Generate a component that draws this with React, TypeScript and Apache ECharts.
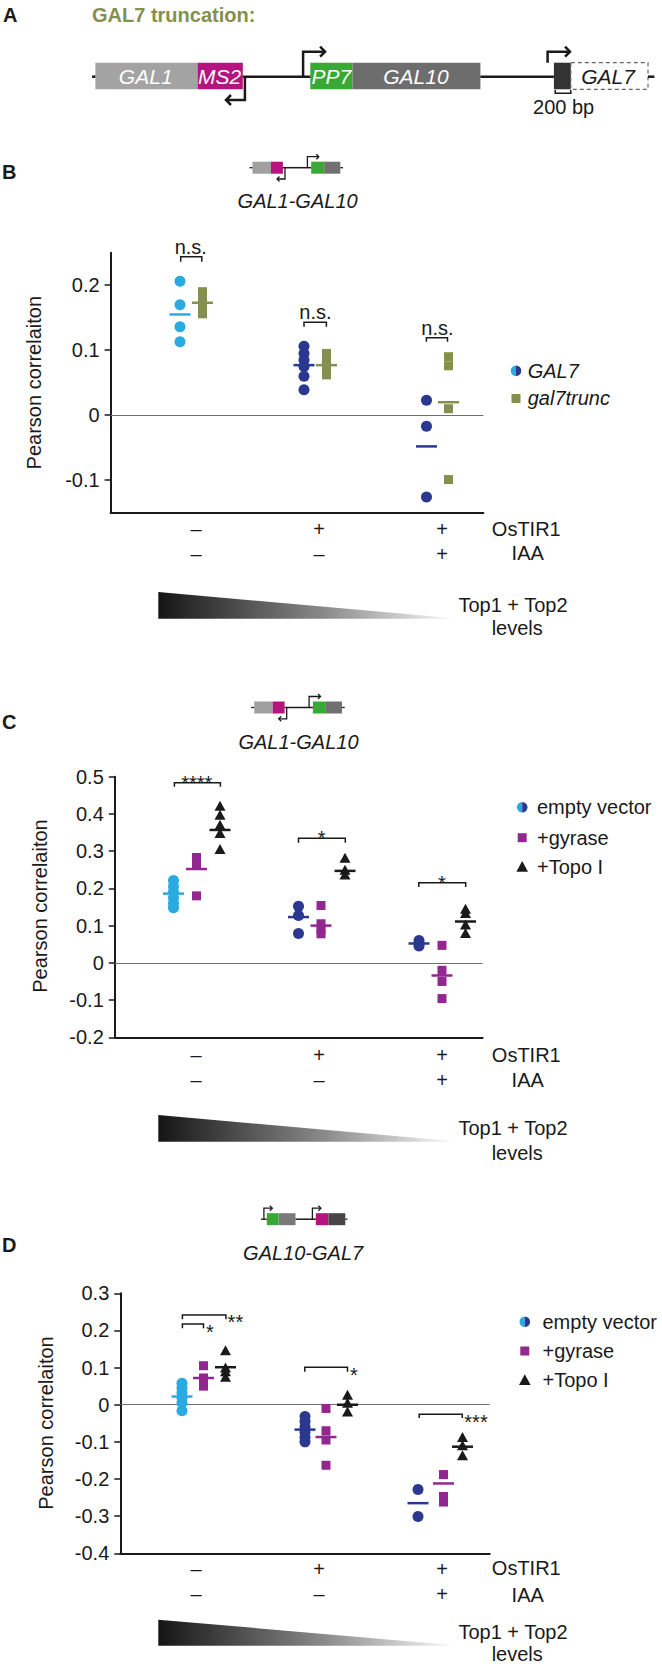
import React, { useEffect, useRef } from 'react';
import * as echarts from 'echarts';

// ---------- data ----------
const OSTIR1 = ['–', '+', '+'];
const IAA = ['–', '–', '+'];

// Panel B (GAL1-GAL10, GAL7 vs gal7trunc)
const B_GAL7 = [[0.206, 0.17, 0.136, 0.113], [0.106, 0.095, 0.085, 0.075, 0.06, 0.039], [0.023, -0.017, -0.126]];
const B_GAL7_MEAN = [0.155, 0.077, -0.048];
const B_TRUNC = [[0.19, 0.179, 0.166, 0.156], [0.095, 0.085, 0.07, 0.062], [0.09, 0.076, 0.01, -0.099]];
const B_TRUNC_MEAN = [0.173, 0.077, 0.02];
const B_TICKS = [-0.1, 0, 0.1, 0.2];

// Panel C (GAL1-GAL10)
const C_EV = [[0.221, 0.205, 0.19, 0.175, 0.16, 0.148], [0.152, 0.127, 0.079], [0.06, 0.052, 0.045]];
const C_EV_MEAN = [0.186, 0.123, 0.052];
const C_GY = [[0.283, 0.265, 0.18], [0.154, 0.105, 0.09, 0.078], [0.047, -0.02, -0.05, -0.096]];
const C_GY_MEAN = [0.252, 0.1, -0.034];
const C_TOPO = [[0.422, 0.398, 0.371, 0.349, 0.306], [0.282, 0.25, 0.237], [0.145, 0.134, 0.103, 0.08]];
const C_TOPO_MEAN = [0.357, 0.247, 0.111];
const C_TICKS = [-0.2, -0.1, 0, 0.1, 0.2, 0.3, 0.4, 0.5];

// Panel D (GAL10-GAL7)
const D_EV = [[0.058, 0.045, 0.032, 0.018, 0.005, -0.016], [-0.032, -0.045, -0.06, -0.075, -0.088, -0.1], [-0.228, -0.301]];
const D_EV_MEAN = [0.022, -0.067, -0.265];
const D_GY = [[0.105, 0.072, 0.05], [-0.01, -0.07, -0.095, -0.163], [-0.188, -0.247, -0.262]];
const D_GY_MEAN = [0.072, -0.087, -0.212];
const D_TOPO = [[0.147, 0.1, 0.09, 0.075], [0.027, 0.005, -0.018], [-0.087, -0.109, -0.136]];
const D_TOPO_MEAN = [0.101, 0, -0.113];
const D_TICKS = [-0.4, -0.3, -0.2, -0.1, 0, 0.1, 0.2, 0.3];

// ---------- style / layout ----------
const FONT = '"Liberation Sans", Arial, Helvetica, sans-serif';
const INK = '#1a1a1a';
const LIGHT_BLUE = '#29abe2';
const DARK_BLUE = '#2b388f';
const OLIVE = '#85904e';
const PURPLE = '#92278f';
const MAGENTA = '#b5147f';
const GREEN = '#38a935';
const EV_COLORS = [LIGHT_BLUE, DARK_BLUE, DARK_BLUE];

const X0 = 196; // pixel of group 1
const DX = 123; // pixels per group
const xv = (px: number) => 1 + (px - X0) / DX;

const PANELS = [
  { left: 110.6, right: 483.4, top: 252.7, bottom: 512.7, min: -0.15, max: 0.25, ticks: B_TICKS, labelMargin: 4 },
  { left: 114.8, right: 482.6, top: 776.7, bottom: 1037.3, min: -0.2, max: 0.5, ticks: C_TICKS, labelMargin: 5 },
  { left: 120.3, right: 489.7, top: 1293.3, bottom: 1553.3, min: -0.4, max: 0.3, ticks: D_TICKS, labelMargin: 3 },
];

// ---------- graphic helpers ----------
function txt(t: string, x: number, y: number, o: any = {}) {
  const align = o.align || 'center';
  return {
    type: 'text', x, y, rotation: o.rot || 0, silent: true, z: 10,
    style: {
      text: t, fill: o.fill || INK, fontSize: o.size || 20, fontFamily: FONT,
      fontStyle: o.italic ? 'italic' : 'normal', fontWeight: o.bold ? 'bold' : 'normal',
      textAlign: align, align, textVerticalAlign: 'middle', verticalAlign: 'middle',
    },
  };
}
function rect(x1: number, y1: number, x2: number, y2: number, fill: string, extra: any = {}) {
  return { type: 'rect', silent: true, z: 5, shape: { x: x1, y: y1, width: x2 - x1, height: y2 - y1 }, style: { fill, ...extra } };
}
function pl(points: number[][], w = 2, stroke = INK, z = 6) {
  return { type: 'polyline', silent: true, z, shape: { points }, style: { stroke, lineWidth: w, fill: 'none' } };
}
function chevR(x: number, y: number, s: number, w: number) {
  return pl([[x - s, y - s], [x, y], [x - s, y + s]], w);
}
function chevL(x: number, y: number, s: number, w: number) {
  return pl([[x + s, y - s], [x, y], [x + s, y + s]], w);
}
function bracket(x1: number, x2: number, y: number, h: number) {
  return pl([[x1, y + h], [x1, y], [x2, y], [x2, y + h]], 1.5);
}
function halfCircle(cx: number, cy: number, r: number) {
  return [
    { type: 'sector', silent: true, z: 10, shape: { cx, cy, r, r0: 0, startAngle: Math.PI / 2, endAngle: (3 * Math.PI) / 2, clockwise: true }, style: { fill: LIGHT_BLUE } },
    { type: 'sector', silent: true, z: 10, shape: { cx, cy, r, r0: 0, startAngle: -Math.PI / 2, endAngle: Math.PI / 2, clockwise: true }, style: { fill: DARK_BLUE } },
  ];
}
function tri(cx: number, cy: number, s: number, fill: string) {
  return { type: 'polygon', silent: true, z: 10, shape: { points: [[cx, cy - s], [cx + s, cy + s * 0.85], [cx - s, cy + s * 0.85]] }, style: { fill } };
}
function gradientTri(y1: number, y2: number) {
  return {
    type: 'polygon', silent: true, z: 5,
    shape: { points: [[158.3, y1], [460.2, y2], [158.3, y2]] },
    style: {
      fill: new echarts.graphic.LinearGradient(0, 0, 1, 0, [
        { offset: 0, color: '#151515' },
        { offset: 0.55, color: '#8a8a8a' },
        { offset: 1, color: '#ffffff' },
      ]),
    },
  };
}
// small GAL1-GAL10 diagram
function iconDivergent(x0: number, yc: number) {
  const y1 = yc - 6, y2 = yc + 6;
  return [
    pl([[x0 - 3, yc], [x0, yc]], 1.3),
    pl([[x0 + 30.4, yc], [x0 + 58.7, yc]], 1.5),
    pl([[x0 + 87.8, yc], [x0 + 90.5, yc]], 1.3),
    rect(x0, y1, x0 + 18.5, y2, '#a0a0a0'),
    rect(x0 + 18.5, y1, x0 + 30.4, y2, MAGENTA),
    rect(x0 + 58.7, y1, x0 + 71.7, y2, GREEN),
    rect(x0 + 71.7, y1, x0 + 87.8, y2, '#707070'),
    pl([[x0 + 32.5, yc], [x0 + 32.5, yc + 11.3], [x0 + 24.5, yc + 11.3]], 1.3),
    chevL(x0 + 24.5, yc + 11.3, 2.5, 1.3),
    pl([[x0 + 54.9, yc], [x0 + 54.9, yc - 11], [x0 + 66.3, yc - 11]], 1.3),
    chevR(x0 + 66.3, yc - 11, 2.5, 1.3),
  ];
}
function iconTandem(yc: number) {
  const y1 = yc - 6, y2 = yc + 6;
  return [
    pl([[260.9, yc], [266.8, yc]], 1.3),
    pl([[295.5, yc], [315.8, yc]], 1.5),
    pl([[345.3, yc], [347.5, yc]], 1.3),
    rect(266.8, y1, 278.6, y2, GREEN),
    rect(278.6, y1, 295.5, y2, '#7a7a7a'),
    rect(315.8, y1, 328.5, y2, MAGENTA),
    rect(328.5, y1, 345.3, y2, '#4a4545'),
    pl([[263.9, yc], [263.9, yc - 11], [272.3, yc - 11]], 1.3),
    chevR(272.3, yc - 11, 2.5, 1.3),
    pl([[312.4, yc], [312.4, yc - 11], [320.9, yc - 11]], 1.3),
    chevR(320.9, yc - 11, 2.5, 1.3),
  ];
}
function bottomBlock(yOs: number, yIaa: number, gy1: number, gy2: number, yTop: number, yLev: number) {
  return [
    txt('OsTIR1', 526.3, yOs),
    txt('IAA', 527.7, yIaa),
    gradientTri(gy1, gy2),
    txt('Top1 + Top2', 513, yTop),
    txt('levels', 517.2, yLev),
  ];
}

function buildGraphic() {
  const els: any[] = [];
  // ---- Panel A ----
  els.push(txt('A', 3, 15, { bold: true, align: 'left', size: 20 }));
  els.push(txt('GAL7 truncation:', 92, 15, { bold: true, align: 'left', fill: OLIVE, size: 20 }));
  const ya = 76.7, a1 = 62.7, a2 = 89.3;
  els.push(pl([[92, ya], [95.4, ya]], 2.5));
  els.push(pl([[242.8, ya], [310.3, ya]], 2.5));
  els.push(pl([[480.4, ya], [553.9, ya]], 2.5));
  els.push(pl([[648, ya], [654.4, ya]], 2.5));
  els.push(rect(95.4, a1, 197.6, a2, '#a3a3a3'));
  els.push(rect(197.6, a1, 242.8, a2, MAGENTA));
  els.push(rect(310.3, a1, 352.5, a2, GREEN));
  els.push(rect(352.5, a1, 480.4, a2, '#6d6d6d'));
  els.push(rect(553.9, a1, 570.8, a2, '#333333'));
  els.push(rect(570.8, a1, 648, a2, 'none', { stroke: '#666666', lineWidth: 1.2, lineDash: [4, 3] }));
  els.push(txt('GAL1', 145.7, ya, { italic: true, fill: '#ffffff', size: 21 }));
  els.push(txt('MS2', 219.5, ya, { italic: true, fill: '#ffffff', size: 21 }));
  els.push(txt('PP7', 331.4, ya, { italic: true, fill: '#ffffff', size: 21 }));
  els.push(txt('GAL10', 415.9, ya, { italic: true, fill: '#ffffff', size: 21 }));
  els.push(txt('GAL7', 608, ya, { italic: true, size: 21 }));
  els.push(pl([[244.9, ya], [244.9, 100], [226.5, 100]], 2.5));
  els.push(chevL(226, 100, 5, 2.5));
  els.push(pl([[303.1, ya], [303.1, 51.7], [324.5, 51.7]], 2.5));
  els.push(chevR(325.1, 51.7, 5, 2.5));
  els.push(pl([[547.6, a1], [547.6, 51.7], [569.5, 51.7]], 2.5));
  els.push(chevR(570, 51.7, 5, 2.5));
  els.push(pl([[555.2, 90], [555.2, 93.3], [570.8, 93.3], [570.8, 90]], 1.5));
  els.push(txt('200 bp', 563.6, 107.3, { size: 20 }));

  // ---- Panel B ----
  els.push(txt('B', 2, 171.7, { bold: true, align: 'left' }));
  els.push(...iconDivergent(252.5, 167.7));
  els.push(txt('GAL1-GAL10', 297.6, 201, { italic: true }));
  els.push(txt('Pearson correlaiton', 33.8, 382.7, { rot: Math.PI / 2 }));
  els.push(bracket(180.7, 201.8, 256.7, 5), txt('n.s.', 190.8, 246.7));
  els.push(bracket(304, 326.4, 322.3, 4.4), txt('n.s.', 315.4, 311.7));
  els.push(bracket(426.4, 447.5, 337.7, 4), txt('n.s.', 437.4, 328.3));
  els.push(...halfCircle(516, 370.7, 5.3));
  els.push(txt('GAL7', 527.7, 370.7, { italic: true, align: 'left' }));
  els.push(rect(511.5, 394, 520.5, 403, OLIVE, {}));
  els.push(txt('gal7trunc', 527.7, 398.3, { italic: true, align: 'left' }));
  els.push(...bottomBlock(529.3, 553.3, 592, 618.7, 605, 628.3));

  // ---- Panel C ----
  els.push(txt('C', 2, 721.7, { bold: true, align: 'left' }));
  els.push(...iconDivergent(254.2, 707.5));
  els.push(txt('GAL1-GAL10', 298.5, 741.7, { italic: true }));
  els.push(txt('Pearson correlaiton', 40.1, 906, { rot: Math.PI / 2 }));
  els.push(bracket(174.4, 220.4, 782.7, 4), txt('****', 196.7, 783));
  els.push(bracket(298.5, 345.3, 838.3, 4.4), txt('*', 321.7, 838));
  els.push(bracket(418.8, 465.7, 882.7, 4.3), txt('*', 442, 882.7));
  els.push(...halfCircle(522.2, 807.3, 5.3));
  els.push(txt('empty vector', 537, 807.3, { align: 'left' }));
  els.push(rect(517.7, 833.2, 526.7, 842.2, PURPLE));
  els.push(txt('+gyrase', 537, 837.7, { align: 'left' }));
  els.push(tri(522.2, 866.7, 5.8, INK));
  els.push(txt('+Topo I', 537, 866.7, { align: 'left' }));
  els.push(...bottomBlock(1055, 1080, 1115, 1141.7, 1128.3, 1153.3));

  // ---- Panel D ----
  els.push(txt('D', 2, 1245, { bold: true, align: 'left' }));
  els.push(...iconTandem(1219.2));
  els.push(txt('GAL10-GAL7', 303.1, 1253.3, { italic: true }));
  els.push(txt('Pearson correlaiton', 46.4, 1423, { rot: Math.PI / 2 }));
  els.push(bracket(182.4, 225.9, 1315, 4.3), txt('**', 235.4, 1321.7));
  els.push(bracket(182.4, 203.5, 1324, 4.3), txt('*', 209.8, 1331.7));
  els.push(bracket(304.8, 347.5, 1367.3, 4.4), txt('*', 353.8, 1375));
  els.push(bracket(419.2, 462.3, 1414.3, 3.7), txt('***', 476, 1421.7));
  els.push(...halfCircle(524.8, 1321.7, 5.3));
  els.push(txt('empty vector', 542.5, 1321.7, { align: 'left' }));
  els.push(rect(520.3, 1346.5, 529.3, 1355.5, PURPLE));
  els.push(txt('+gyrase', 542.5, 1351, { align: 'left' }));
  els.push(tri(524.8, 1380, 5.8, INK));
  els.push(txt('+Topo I', 542.5, 1380, { align: 'left' }));
  els.push(...bottomBlock(1568.3, 1595, 1619.7, 1645.7, 1632.3, 1653.5));
  return els;
}

// ---------- series ----------
type Spec = { name: string; vals: number[][]; means: number[]; px: number[]; colors: string[]; symbol: string; size: any };

function panelSeries(g: number, specs: Spec[]) {
  const out: any[] = [];
  specs.forEach((s, k) => {
    const pts: any = {
      name: s.name,
      type: 'scatter', xAxisIndex: g, yAxisIndex: g, silent: true, z: 3,
      symbol: s.symbol, symbolSize: s.size,
      itemStyle: { opacity: 1 },
      emphasis: { disabled: true },
      data: s.vals.flatMap((arr, i) => arr.map((v) => ({ value: [xv(s.px[i]), v], itemStyle: { color: s.colors[i], opacity: 1 } }))),
    };
    if (k === 0) {
      pts.markLine = {
        silent: true, symbol: ['none', 'none'], label: { show: false }, z: 1,
        lineStyle: { color: '#6e6e6e', width: 1, type: 'solid' },
        emphasis: { disabled: true },
        data: [{ yAxis: 0 }],
      };
    }
    out.push(pts);
    out.push({
      name: s.name + ' mean',
      type: 'scatter', xAxisIndex: g, yAxisIndex: g, silent: true, z: 4,
      symbol: 'rect', symbolSize: [21, 2.5],
      itemStyle: { opacity: 1 },
      emphasis: { disabled: true },
      data: s.means.map((m, i) => ({ value: [xv(s.px[i]), m], itemStyle: { color: s.colors[i], opacity: 1 } })),
    });
  });
  return out;
}

function buildOption() {
  const textStyle = { fontFamily: FONT, color: INK };
  const grid = PANELS.map((p) => ({
    left: p.left, top: p.top, width: p.right - p.left, height: p.bottom - p.top,
    containLabel: false, outerBoundsMode: 'none',
  }));
  const xAxis = PANELS.map((p, g) => ({
    type: 'value', gridIndex: g,
    min: xv(p.left), max: xv(p.right),
    axisLine: { show: true, onZero: false, lineStyle: { color: INK, width: 2 } },
    axisTick: { show: false },
    splitLine: { show: false },
    axisLabel: {
      show: true, customValues: [1, 2, 3],
      formatter: (v: number) => {
        const i = Math.round(v) - 1;
        return `${OSTIR1[i] ?? ''}\n${IAA[i] ?? ''}`;
      },
      fontSize: 20, lineHeight: 25, margin: p.labelMargin, color: INK, fontFamily: FONT,
    },
  }));
  const yAxis = PANELS.map((p, g) => ({
    type: 'value', gridIndex: g, min: p.min, max: p.max,
    axisLine: { show: true, onZero: false, lineStyle: { color: INK, width: 2 } },
    axisTick: { show: true, length: 6, customValues: p.ticks, lineStyle: { color: INK, width: 1.5 } },
    splitLine: { show: false },
    axisLabel: {
      show: true, customValues: p.ticks,
      formatter: (v: number) => String(Math.round(v * 10) / 10),
      fontSize: 20, margin: 11, color: INK, fontFamily: FONT,
    },
  }));
  const series = [
    ...panelSeries(0, [
      { name: 'GAL7', vals: B_GAL7, means: B_GAL7_MEAN, px: [180, 304, 426.5], colors: EV_COLORS, symbol: 'circle', size: 11 },
      { name: 'gal7trunc', vals: B_TRUNC, means: B_TRUNC_MEAN, px: [202.5, 326.5, 448.5], colors: [OLIVE, OLIVE, OLIVE], symbol: 'rect', size: 9 },
    ]),
    ...panelSeries(1, [
      { name: 'empty vector', vals: C_EV, means: C_EV_MEAN, px: [173.5, 298.5, 419], colors: EV_COLORS, symbol: 'circle', size: 11 },
      { name: '+gyrase', vals: C_GY, means: C_GY_MEAN, px: [196.5, 321, 442], colors: [PURPLE, PURPLE, PURPLE], symbol: 'rect', size: 9 },
      { name: '+Topo I', vals: C_TOPO, means: C_TOPO_MEAN, px: [220, 345, 465.5], colors: [INK, INK, INK], symbol: 'triangle', size: [11, 10] },
    ]),
    ...panelSeries(2, [
      { name: 'empty vector', vals: D_EV, means: D_EV_MEAN, px: [182, 305, 418], colors: EV_COLORS, symbol: 'circle', size: 11 },
      { name: '+gyrase', vals: D_GY, means: D_GY_MEAN, px: [203.5, 326, 443.5], colors: [PURPLE, PURPLE, PURPLE], symbol: 'rect', size: 9 },
      { name: '+Topo I', vals: D_TOPO, means: D_TOPO_MEAN, px: [225.5, 347.5, 462.5], colors: [INK, INK, INK], symbol: 'triangle', size: [11, 10] },
    ]),
  ];
  return {
    animation: false,
    backgroundColor: '#ffffff',
    textStyle,
    grid, xAxis, yAxis, series,
    graphic: { elements: buildGraphic() },
  };
}

export default function App() {
  const ref = useRef<HTMLDivElement>(null);
  useEffect(() => {
    if (!ref.current) return;
    const chart = echarts.init(ref.current, null, { renderer: 'svg' });
    chart.setOption(buildOption() as any);
    return () => chart.dispose();
  }, []);
  return (
    <div
      ref={ref}
      style={{ position: 'absolute', left: 0, top: 0, width: 662, height: 1664, background: '#ffffff' }}
    />
  );
}
